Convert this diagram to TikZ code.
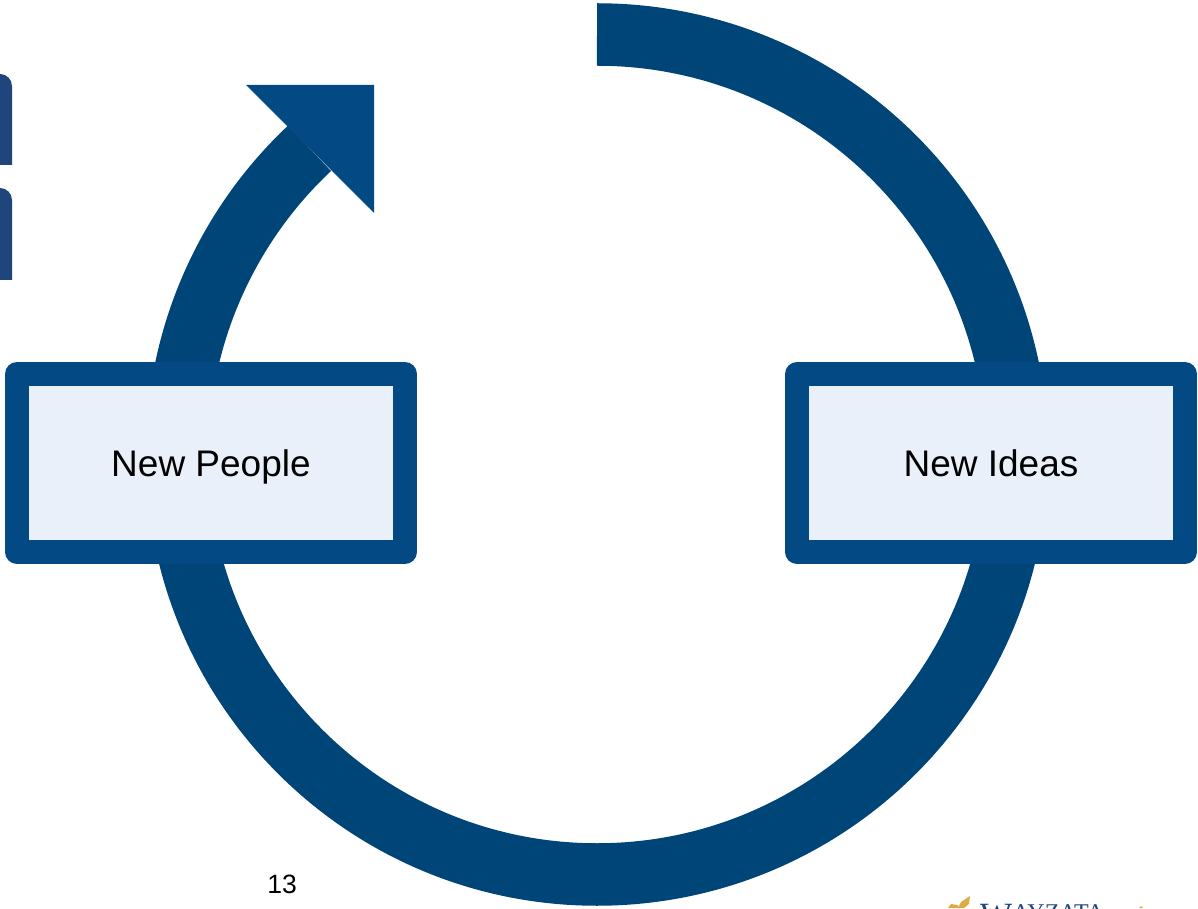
\documentclass[tikz,border=0pt]{standalone}
\usepackage{fontspec}
\setmainfont{Liberation Sans}
\newfontfamily\logofont{Liberation Serif}
\definecolor{ringblue}{HTML}{004578}
\definecolor{boxblue}{HTML}{034A84}
\definecolor{boxfill}{HTML}{E9F0F9}
\definecolor{sideblue}{HTML}{1F457C}
\definecolor{logogold}{HTML}{DDAA45}
\definecolor{logoblue}{HTML}{1F4480}
\tikzset{
  x=1pt,y=1pt,
  ring/.style={draw=ringblue,line width=62.5pt,line cap=butt},
  headshape/.style={fill=boxblue},
  sidebar/.style={fill=sideblue},
  labelbox/.style={draw=boxblue,fill=boxfill,line width=24pt,line join=round,
    minimum width=388pt,minimum height=178pt,inner sep=0pt,outer sep=0pt,
    text height=28pt,text depth=0pt,
    font=\fontsize{37}{37}\selectfont,text=black},
}
\begin{document}
\begin{tikzpicture}
\useasboundingbox (0,0) rectangle (1198,908);
\fill[white] (0,0) rectangle (1198,908);
% side fragments
\path[sidebar] (0,834) arc (90:0:12) -- (12,743) -- (0,743) -- cycle;
\path[sidebar] (0,720) arc (90:0:12) -- (12,628) -- (0,628) -- cycle;
% ring
\coordinate (ringstart) at (597,873.5);
\draw[ring] (ringstart) arc (90:-226.8:420);
% arrow head
\coordinate (h1) at (246,823);
\coordinate (h2) at (374,823);
\coordinate (h3) at (374,695);
\path[headshape] (h1) -- (h2) -- (h3) -- cycle;
% boxes
\node[labelbox] (people) at (211,445) {New People};
\node[labelbox] (ideas) at (991,445) {New Ideas};
% page number
\node[font=\fontsize{26.5}{26.5}\selectfont,text=black,inner sep=0pt] (page) at (282,24) {13};
% logo, cut by the page edge
\path[fill=logogold] (948,0) -- (951,4) -- (957,3) -- (960,0) -- cycle;
\path[fill=logogold] (958,0) -- (961,6) -- (970,12) -- (969,4) -- (964,0) -- cycle;
\path[fill=logogold] (1139,0) -- (1141,2) -- (1143,0) -- cycle;
\node[anchor=base west,inner sep=0pt,text=logoblue,font=\logofont\fontsize{34}{34}\selectfont] (logo) at (980,-18) {W\raisebox{6pt}{\fontsize{24}{24}\selectfont AYZATA}};
\end{tikzpicture}
\end{document}
